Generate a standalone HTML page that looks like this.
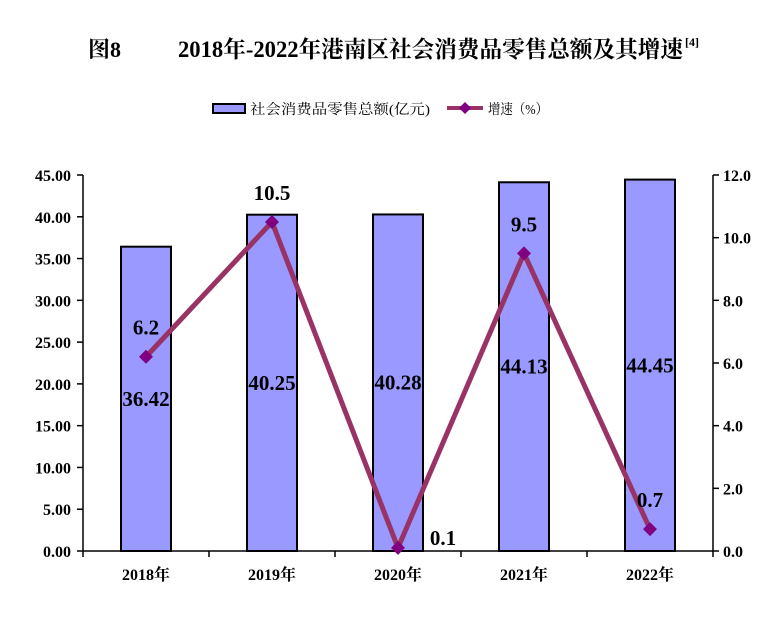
<!DOCTYPE html>
<html><head><meta charset="utf-8"><style>
body{margin:0;background:#fff;}
svg{display:block;font-family:"Liberation Serif","Noto Serif CJK SC",serif;}
</style></head><body>
<svg id="chart" width="775" height="623" viewBox="0 0 775 623">
<text x="88" y="57" font-size="22" font-weight="bold">图8</text>
<text x="178" y="57" font-size="23" font-weight="bold" textLength="505" lengthAdjust="spacingAndGlyphs">2018年-2022年港南区社会消费品零售总额及其增速</text>
<text x="685" y="46" font-size="12" font-weight="bold">[4]</text>
<g>
<g>
<rect x="213" y="104" width="32" height="9" fill="#9999ff" stroke="#000" stroke-width="2"/>
<text x="250" y="114" font-size="14" textLength="180" lengthAdjust="spacingAndGlyphs">社会消费品零售总额(亿元)</text></g>
<g>
<line x1="447" y1="108" x2="483" y2="108" stroke="#993366" stroke-width="4"/>
<path d="M465 102 L471 108 L465 114 L459 108Z" fill="#800080"/>
<text x="488" y="114" font-size="14" textLength="60" lengthAdjust="spacingAndGlyphs">增速（%）</text></g>
</g>
<g id="axes"></g><g id="bars"></g><g id="line"></g>
</svg>
<script>
const categories=["2018年","2019年","2020年","2021年","2022年"];
const salesValues=[36.42,40.25,40.28,44.13,44.45];
const growthValues=[6.2,10.5,0.1,9.5,0.7];
const leftTicks=["0.00","5.00","10.00","15.00","20.00","25.00","30.00","35.00","40.00","45.00"];
const rightTicks=["0.0","2.0","4.0","6.0","8.0","10.0","12.0"];
const NS="http://www.w3.org/2000/svg";
const X0=83,X1=713,Y0=551,Y1=175,LMAX=45,RMAX=12;
const n=categories.length,step=(X1-X0)/n;
const xc=i=>X0+step*(i+0.5);
const yl=v=>Y0-(Y0-Y1)*v/LMAX;
const yr=v=>Y0-(Y0-Y1)*v/RMAX;
function mk(tag,attrs,parent,text){const e=document.createElementNS(NS,tag);for(const k in attrs)e.setAttribute(k,attrs[k]);if(text!==undefined)e.textContent=text;parent.appendChild(e);return e;}
const axes=document.getElementById('axes');
let a=mk('path',{d:`M${X0} ${Y1} V${Y0} H${X1} V${Y1}`,fill:'none',stroke:'#000','stroke-width':1.5},axes);


leftTicks.forEach((t)=>{const v=parseFloat(t);const y=yl(v);
mk('line',{x1:X0-6,x2:X0,y1:y,y2:y,stroke:'#000','stroke-width':1.5},axes);
const tx=mk('text',{x:X0-12,y:y+6,'text-anchor':'end','font-size':16,'font-weight':'bold'},axes,t);

});
rightTicks.forEach((t)=>{const v=parseFloat(t);const y=yr(v);
mk('line',{x1:X1,x2:X1+6,y1:y,y2:y,stroke:'#000','stroke-width':1.5},axes);
const tx=mk('text',{x:X1+10,y:y+6,'font-size':16,'font-weight':'bold'},axes,t);

});
for(let i=0;i<=n;i++){mk('line',{x1:X0+step*i,x2:X0+step*i,y1:Y0,y2:Y0+6,stroke:'#000','stroke-width':1.5},axes);}
categories.forEach((c,i)=>{const tx=mk('text',{x:xc(i),y:Y0+29,'text-anchor':'middle','font-size':16,'font-weight':'bold'},axes,c);

});
const bars=document.getElementById('bars');
salesValues.forEach((v,i)=>{const r=mk('rect',{x:xc(i)-25,y:yl(v),width:50,height:Y0-yl(v),fill:'#9999ff',stroke:'#000','stroke-width':2},bars);


const t=mk('text',{x:xc(i),y:(yl(v)+Y0)/2+7,'text-anchor':'middle','font-size':21,'font-weight':'bold'},bars,v.toFixed(2));

});
const line=document.getElementById('line');
const pl=mk('polyline',{points:growthValues.map((v,i)=>xc(i)+','+yr(v)).join(' '),fill:'none',stroke:'#993366','stroke-width':5,'stroke-linejoin':'round'},line);


growthValues.forEach((v,i)=>{const x=xc(i),y=yr(v);
const m=mk('path',{d:`M${x} ${y-7} L${x+7} ${y} L${x} ${y+7} L${x-7} ${y}Z`,fill:'#800080'},line);


let lx=x,ly=y-22;if(i==2){lx=x+45;ly=y-3;}
const t=mk('text',{x:lx,y:ly,'text-anchor':'middle','font-size':21,'font-weight':'bold'},line,String(v));

});
</script>
</body></html>
